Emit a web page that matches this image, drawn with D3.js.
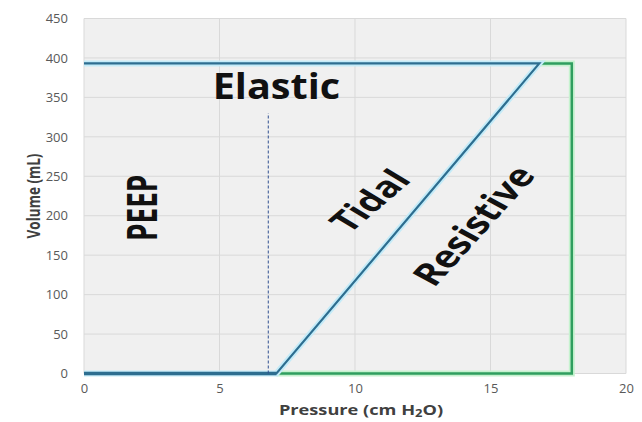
<!DOCTYPE html>
<html>
<head>
<meta charset="utf-8">
<script src="https://cdn.jsdelivr.net/npm/d3@7"></script>
<style>
  html, body { margin: 0; padding: 0; background: #fff; }
  svg { display: block; }
  text { font-family: "Open Sans", "DejaVu Sans", sans-serif; }
</style>
</head>
<body>
<svg id="chart" width="642" height="422"></svg>
<script>
// ---- data ----
const xTicks = [0, 5, 10, 15, 20];
const yTicks = [0, 50, 100, 150, 200, 250, 300, 350, 400, 450];
const blueX = [0, 7.1, 16.8, 0];
const blueY = [0, 0, 393, 393];
const greenX = [7.1, 18, 18, 16.8];
const greenY = [0, 0, 393, 393];
const peepX = [6.8, 6.8];
const peepY = [0, 330];
const labels = ["Elastic", "PEEP", "Tidal", "Resistive"];
const xTitleParts = ["Pressure (cm H", "2", "O)"];
const yTitle = "Volume (mL)";

// ---- layout ----
const svg = d3.select("#chart");
const x = d3.scaleLinear().domain([0, 20]).range([84, 626]);
const y = d3.scaleLinear().domain([0, 450]).range([373.5, 18.5]);

svg.append("rect")
  .attr("x", x(0)).attr("y", y(450))
  .attr("width", x(20) - x(0)).attr("height", y(0) - y(450))
  .attr("fill", "#f0f0f0");

// grid
svg.append("g").selectAll("line").data(yTicks).join("line")
  .attr("x1", x(0)).attr("x2", x(20))
  .attr("y1", d => y(d)).attr("y2", d => y(d))
  .attr("stroke", "#d9d9d9").attr("stroke-width", 1);
svg.append("g").selectAll("line").data(xTicks).join("line")
  .attr("y1", y(0)).attr("y2", y(450))
  .attr("x1", d => x(d)).attr("x2", d => x(d))
  .attr("stroke", "#d9d9d9").attr("stroke-width", 1);

// axes (labels only)
const yAxis = d3.axisLeft(y).tickValues(yTicks).tickSize(0).tickPadding(16);
const gy = svg.append("g").attr("transform", `translate(${x(0)},0)`).call(yAxis);
gy.select(".domain").remove();
gy.selectAll("text").attr("font-size", 13).attr("fill", "#595959")
  .style("font-family", '"Open Sans", sans-serif');

const xAxis = d3.axisBottom(x).tickValues(xTicks).tickSize(0).tickPadding(10);
const gx = svg.append("g").attr("transform", `translate(0,${y(0)})`).call(xAxis);
gx.select(".domain").remove();
gx.selectAll("text").attr("font-size", 13).attr("fill", "#595959")
  .style("font-family", '"Open Sans", sans-serif');

// lines
const line = d3.line().x(d => x(d[0])).y(d => y(d[1]));
const bluePts = blueX.map((v, i) => [v, blueY[i]]);
const greenPts = greenX.map((v, i) => [v, greenY[i]]);
const peepPts = peepX.map((v, i) => [v, peepY[i]]);

svg.append("path").attr("d", line(greenPts)).attr("fill", "none")
  .attr("stroke", "#c6f2cf").attr("stroke-width", 6).attr("stroke-linejoin", "miter");
svg.append("path").attr("d", line(greenPts)).attr("fill", "none")
  .attr("stroke", "#2f9e5f").attr("stroke-width", 2.5).attr("stroke-linejoin", "miter");

svg.append("path").attr("d", line(bluePts)).attr("fill", "none")
  .attr("stroke", "#c4ebf8").attr("stroke-width", 6).attr("stroke-linejoin", "miter");
svg.append("path").attr("d", line(bluePts)).attr("fill", "none")
  .attr("stroke", "#2d6e90").attr("stroke-width", 2.2).attr("stroke-linejoin", "miter");
// thicker baseline segment
svg.append("path").attr("d", line(bluePts.slice(0, 2))).attr("fill", "none")
  .attr("stroke", "#2d6e90").attr("stroke-width", 3.5);

svg.append("path").attr("d", line(peepPts)).attr("fill", "none")
  .attr("stroke", "#2f4f8f").attr("stroke-width", 1).attr("stroke-dasharray", "3,2");

// annotation labels
function label(txt, dx, dy, size, sx, rot) {
  svg.append("text")
    .attr("transform", `translate(${x(dx)},${y(dy)}) scale(${sx},1) rotate(${-rot})`)
    .attr("text-anchor", "middle").attr("dominant-baseline", "central")
    .attr("font-size", size).attr("font-weight", "bold").attr("fill", "#111")
    .text(txt);
}
label(labels[0], 7.1, 366, 36, 1.1, 0);
label(labels[1], 2.07, 210, 28, 1.5, 90);
label(labels[2], 10.5, 220, 29, 1.4, 50);
label(labels[3], 14.35, 188, 31, 1.3, 55);

// axis titles
const xt = svg.append("text")
  .attr("transform", `translate(${(x(0) + x(20)) / 2 + 6},410) scale(1.3,1)`)
  .attr("text-anchor", "middle").attr("dominant-baseline", "central")
  .attr("font-size", 14).attr("font-weight", "bold").attr("fill", "#404040");
xt.append("tspan").text(xTitleParts[0]);
xt.append("tspan").attr("font-size", 10).attr("dy", 3).text(xTitleParts[1]);
xt.append("tspan").attr("dy", -3).text(xTitleParts[2]);

svg.append("text")
  .attr("transform", `translate(33,196) scale(1.3,1) rotate(-90)`)
  .attr("text-anchor", "middle").attr("dominant-baseline", "central")
  .attr("font-size", 13.5).attr("font-weight", "bold").attr("fill", "#404040")
  .text(yTitle);
</script>
</body>
</html>
